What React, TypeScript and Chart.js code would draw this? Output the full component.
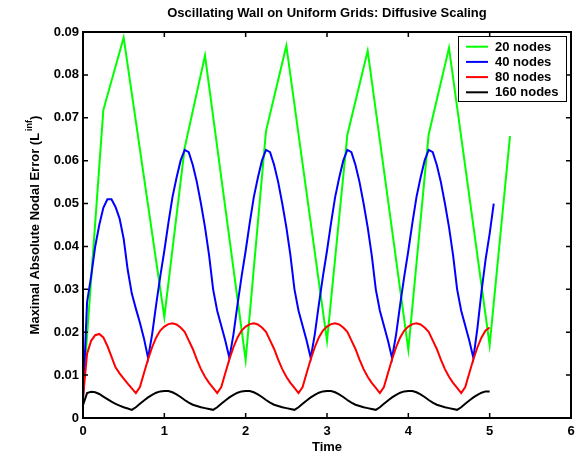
import { useEffect, useRef } from 'react';
import { Chart, registerables } from 'chart.js';

Chart.register(...registerables);

const FONT = '"Liberation Sans", Arial, Helvetica, sans-serif';

const chartTitle = 'Oscillating Wall on Uniform Grids: Diffusive Scaling';
const xTitle = 'Time';
const yTitleMain = 'Maximal Absolute Nodal Error (L';
const yTitleSup = 'inf';
const yTitleEnd = ')';

const seriesLabels = ['20 nodes', '40 nodes', '80 nodes', '160 nodes'];
const seriesColors = ['#00ff00', '#0000ff', '#ff0000', '#000000'];

const coarseTimes = [
  0, 0.25, 0.5, 0.75, 1, 1.25, 1.5, 1.75, 2, 2.25, 2.5, 2.75, 3, 3.25, 3.5, 3.75, 4, 4.25, 4.5, 4.75, 5, 5.25,
];

const nodes20 = [
  0.006, 0.0718, 0.0887, 0.0561, 0.0235, 0.063, 0.0845, 0.049, 0.0135, 0.0669, 0.0868, 0.0524, 0.018, 0.066,
  0.0856, 0.0508, 0.0159, 0.0661, 0.0863, 0.0517, 0.017, 0.0657,
];

const fineTimes = [
  0, 0.05, 0.1, 0.15, 0.2, 0.25, 0.3, 0.35, 0.4, 0.45, 0.5, 0.55, 0.6, 0.65, 0.7, 0.75, 0.8, 0.85, 0.9, 0.95,
  1, 1.05, 1.1, 1.15, 1.2, 1.25, 1.3, 1.35, 1.4, 1.45, 1.5, 1.55, 1.6, 1.65, 1.7, 1.75, 1.8, 1.85, 1.9, 1.95,
  2, 2.05, 2.1, 2.15, 2.2, 2.25, 2.3, 2.35, 2.4, 2.45, 2.5, 2.55, 2.6, 2.65, 2.7, 2.75, 2.8, 2.85, 2.9, 2.95,
  3, 3.05, 3.1, 3.15, 3.2, 3.25, 3.3, 3.35, 3.4, 3.45, 3.5, 3.55, 3.6, 3.65, 3.7, 3.75, 3.8, 3.85, 3.9, 3.95,
  4, 4.05, 4.1, 4.15, 4.2, 4.25, 4.3, 4.35, 4.4, 4.45, 4.5, 4.55, 4.6, 4.65, 4.7, 4.75, 4.8, 4.85, 4.9, 4.95,
  5, 5.05,
];

const nodes40 = [
  0.004, 0.027, 0.033, 0.04, 0.045, 0.049, 0.051, 0.051, 0.0492, 0.0465, 0.0418, 0.0345, 0.029, 0.0255, 0.0222, 0.0185, 0.014, 0.0195, 0.0265, 0.033,
  0.039, 0.0455, 0.0515, 0.056, 0.06, 0.0625, 0.062, 0.059, 0.055, 0.05, 0.0445, 0.038, 0.03, 0.025, 0.0215, 0.018, 0.014, 0.0195, 0.0265, 0.033,
  0.039, 0.0455, 0.0515, 0.056, 0.06, 0.0625, 0.062, 0.059, 0.055, 0.05, 0.0445, 0.038, 0.03, 0.025, 0.0215, 0.018, 0.014, 0.0195, 0.0265, 0.033,
  0.039, 0.0455, 0.0515, 0.056, 0.06, 0.0625, 0.062, 0.059, 0.055, 0.05, 0.0445, 0.038, 0.03, 0.025, 0.0215, 0.018, 0.014, 0.0195, 0.0265, 0.033,
  0.039, 0.0455, 0.0515, 0.056, 0.06, 0.0625, 0.062, 0.059, 0.055, 0.05, 0.0445, 0.038, 0.03, 0.025, 0.0215, 0.018, 0.014, 0.021, 0.0295, 0.037,
  0.043, 0.05,
];

const nodes80 = [
  0.0046, 0.015, 0.018, 0.0193, 0.0196, 0.0188, 0.0168, 0.0143, 0.0118, 0.0104, 0.0092, 0.008, 0.0069, 0.0058, 0.0072, 0.0105, 0.0137, 0.0165, 0.0188, 0.0204,
  0.0213, 0.0219, 0.0221, 0.0218, 0.0211, 0.0201, 0.0181, 0.0161, 0.0136, 0.0114, 0.0096, 0.0082, 0.007, 0.0058, 0.0072, 0.0105, 0.0137, 0.0165, 0.0188, 0.0204,
  0.0213, 0.0219, 0.0221, 0.0218, 0.0211, 0.0201, 0.0181, 0.0161, 0.0136, 0.0114, 0.0096, 0.0082, 0.007, 0.0058, 0.0072, 0.0105, 0.0137, 0.0165, 0.0188, 0.0204,
  0.0213, 0.0219, 0.0221, 0.0218, 0.0211, 0.0201, 0.0181, 0.0161, 0.0136, 0.0114, 0.0096, 0.0082, 0.007, 0.0058, 0.0072, 0.0105, 0.0137, 0.0165, 0.0188, 0.0204,
  0.0213, 0.0219, 0.0221, 0.0218, 0.0211, 0.0201, 0.0181, 0.0161, 0.0136, 0.0114, 0.0096, 0.0082, 0.007, 0.0058, 0.0072, 0.0105, 0.0137, 0.0165, 0.0188, 0.0204,
  0.0211,
];

const nodes160 = [
  0.003, 0.0058, 0.0061, 0.006, 0.0056, 0.005, 0.0044, 0.0038, 0.0033, 0.0029, 0.0025, 0.0022, 0.0019, 0.0025, 0.0033, 0.0041, 0.0048, 0.0054, 0.0059, 0.0062,
  0.0063, 0.0063, 0.006, 0.0055, 0.0049, 0.0042, 0.0036, 0.0031, 0.0028, 0.0025, 0.0023, 0.0021, 0.0019, 0.0025, 0.0033, 0.0041, 0.0048, 0.0054, 0.0059, 0.0062,
  0.0063, 0.0063, 0.006, 0.0055, 0.0049, 0.0042, 0.0036, 0.0031, 0.0028, 0.0025, 0.0023, 0.0021, 0.0019, 0.0025, 0.0033, 0.0041, 0.0048, 0.0054, 0.0059, 0.0062,
  0.0063, 0.0063, 0.006, 0.0055, 0.0049, 0.0042, 0.0036, 0.0031, 0.0028, 0.0025, 0.0023, 0.0021, 0.0019, 0.0025, 0.0033, 0.0041, 0.0048, 0.0054, 0.0059, 0.0062,
  0.0063, 0.0063, 0.006, 0.0055, 0.0049, 0.0042, 0.0036, 0.0031, 0.0028, 0.0025, 0.0023, 0.0021, 0.0019, 0.0025, 0.0033, 0.0041, 0.0048, 0.0054, 0.0059, 0.0062,
  0.0062,
];

const xTicksMin = 0;
const xTicksMax = 6;
const yTicksMin = 0;
const yTicksMax = 0.09;

const toPoints = (times: number[], values: number[]) => values.map((v, i) => ({ x: times[i], y: v }));

const decorPlugin = {
  id: 'decor',
  afterDraw(chart: any) {
    const { ctx, chartArea: a, scales } = chart;
    const xs = scales.x;
    const ys = scales.y;
    ctx.save();
    // frame
    ctx.strokeStyle = '#000';
    ctx.lineWidth = 2;
    ctx.strokeRect(a.left, a.top, a.right - a.left, a.bottom - a.top);
    // inward ticks
    const tl = 5;
    ctx.lineWidth = 1.5;
    ctx.beginPath();
    xs.ticks.forEach((t: any) => {
      const px = xs.getPixelForValue(t.value);
      ctx.moveTo(px, a.bottom);
      ctx.lineTo(px, a.bottom - tl);
      ctx.moveTo(px, a.top);
      ctx.lineTo(px, a.top + tl);
    });
    ys.ticks.forEach((t: any) => {
      const py = ys.getPixelForValue(t.value);
      ctx.moveTo(a.left, py);
      ctx.lineTo(a.left + tl, py);
      ctx.moveTo(a.right, py);
      ctx.lineTo(a.right - tl, py);
    });
    ctx.stroke();

    const cx = (a.left + a.right) / 2;
    ctx.fillStyle = '#000';
    ctx.textBaseline = 'middle';
    ctx.textAlign = 'center';
    ctx.font = `bold 13px ${FONT}`;
    ctx.fillText(chartTitle, cx, 13);
    ctx.fillText(xTitle, cx, 447);

    // y title with superscript
    const cy = (a.top + a.bottom) / 2;
    ctx.save();
    ctx.translate(35, cy);
    ctx.rotate(-Math.PI / 2);
    ctx.textAlign = 'left';
    ctx.font = `bold 13px ${FONT}`;
    const w1 = ctx.measureText(yTitleMain).width;
    const w3 = ctx.measureText(yTitleEnd).width;
    ctx.font = `bold 9px ${FONT}`;
    const w2 = ctx.measureText(yTitleSup).width;
    const gap = 2;
    const total = w1 + gap + w2 + w3;
    let x0 = -total / 2;
    ctx.font = `bold 13px ${FONT}`;
    ctx.fillText(yTitleMain, x0, 0);
    x0 += w1 + gap;
    ctx.font = `bold 9px ${FONT}`;
    ctx.fillText(yTitleSup, x0, -5);
    x0 += w2;
    ctx.font = `bold 13px ${FONT}`;
    ctx.fillText(yTitleEnd, x0, 0);
    ctx.restore();

    // legend
    const boxL = a.right - 113;
    const boxT = a.top + 4;
    const boxW = 108;
    const boxH = 65;
    ctx.fillStyle = '#fff';
    ctx.fillRect(boxL, boxT, boxW, boxH);
    ctx.strokeStyle = '#000';
    ctx.lineWidth = 1;
    ctx.strokeRect(boxL + 0.5, boxT + 0.5, boxW, boxH);
    ctx.font = `bold 13px ${FONT}`;
    ctx.textAlign = 'left';
    chart.data.datasets.forEach((ds: any, i: number) => {
      const ry = boxT + 10.7 + i * 15.2;
      ctx.strokeStyle = ds.borderColor;
      ctx.lineWidth = 2;
      ctx.beginPath();
      ctx.moveTo(boxL + 8, ry);
      ctx.lineTo(boxL + 30, ry);
      ctx.stroke();
      ctx.fillStyle = '#000';
      ctx.fillText(ds.label, boxL + 37, ry + 0.5);
    });
    ctx.restore();
  },
};

export default function App() {
  const ref = useRef<HTMLCanvasElement>(null);
  useEffect(() => {
    document.body.style.margin = '0';
    const canvas = ref.current;
    if (!canvas) return;
    const seriesData = [
      toPoints(coarseTimes, nodes20),
      toPoints(fineTimes, nodes40),
      toPoints(fineTimes, nodes80),
      toPoints(fineTimes, nodes160),
    ];
    const chart = new Chart(canvas, {
      type: 'line',
      data: {
        datasets: seriesData.map((d, i) => ({
          label: seriesLabels[i],
          data: d,
          borderColor: seriesColors[i],
          backgroundColor: seriesColors[i],
          borderWidth: 2,
          pointRadius: 0,
          tension: 0,
          fill: false,
          order: 4 - i,
        })),
      },
      options: {
        responsive: false,
        animation: false,
        devicePixelRatio: 1,
        layout: { padding: { top: 32, right: 4, left: 0, bottom: 0 } },
        plugins: {
          legend: { display: false },
          title: { display: false },
          tooltip: { enabled: false },
        },
        scales: {
          x: {
            type: 'linear',
            min: xTicksMin,
            max: xTicksMax,
            grid: { display: false, drawTicks: false },
            border: { display: false },
            ticks: {
              stepSize: 1,
              color: '#000',
              padding: 6,
              maxRotation: 0,
              font: { family: FONT, size: 13, weight: 'bold' },
            },
            afterFit: (s: any) => {
              s.height = 39;
              s.paddingRight = 0;
              s.paddingLeft = 0;
            },
          },
          y: {
            type: 'linear',
            min: yTicksMin,
            max: yTicksMax,
            grid: { display: false, drawTicks: false },
            border: { display: false },
            ticks: {
              stepSize: 0.01,
              color: '#000',
              padding: 4,
              font: { family: FONT, size: 13, weight: 'bold' },
              callback: (v: any) => (Number(v) === 0 ? '0' : Number(v).toFixed(2)),
            },
            afterFit: (s: any) => {
              s.width = 83;
              s.paddingTop = 0;
              s.paddingBottom = 0;
            },
          },
        },
      },
      plugins: [decorPlugin],
    } as any);
    return () => chart.destroy();
  }, []);
  return (
    <div style={{ width: 575, height: 457 }}>
      <canvas ref={ref} width={575} height={457} />
    </div>
  );
}
